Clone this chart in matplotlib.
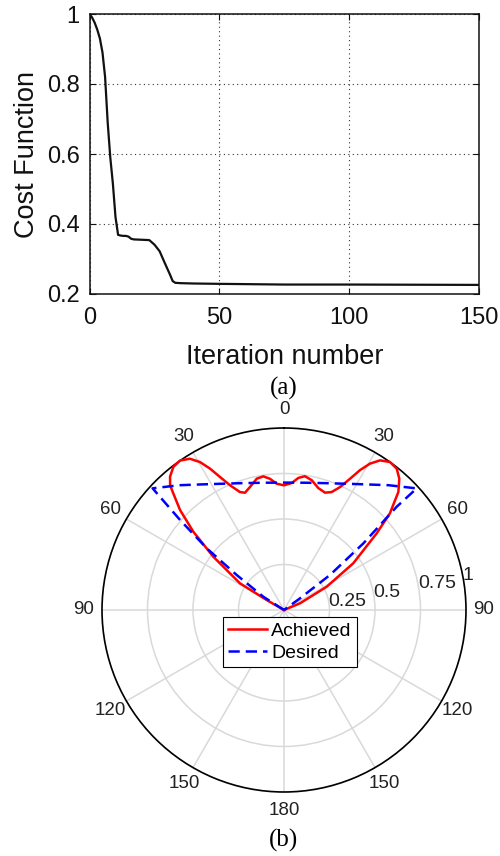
import numpy as np
import matplotlib
matplotlib.use('Agg')
import matplotlib.pyplot as plt

plt.rcParams['font.family'] = ['Liberation Sans', 'DejaVu Sans']

# ---------------- (a) cost function data ----------------
iterations = [0, 1, 2, 3, 4, 5, 6, 7, 8, 9, 10, 11, 12, 13, 14, 15, 16, 17,
              20, 23, 25, 27, 29, 31, 32, 33, 35, 40, 50, 75, 100, 150]
cost = [1.0, 0.99, 0.975, 0.955, 0.93, 0.89, 0.82, 0.69, 0.59, 0.515, 0.42,
        0.369, 0.367, 0.366, 0.366, 0.364, 0.358, 0.356, 0.355, 0.354, 0.341,
        0.322, 0.288, 0.255, 0.237, 0.232, 0.231, 0.230, 0.229, 0.227, 0.227,
        0.226]
x_ticks = [0, 50, 100, 150]
y_ticks = [0.2, 0.4, 0.6, 0.8, 1.0]
y_tick_labels = ['0.2', '0.4', '0.6', '0.8', '1']

# ---------------- (b) beam pattern data (deg, normalised) ----------------
achieved_theta = [-90, -60.0, -58.8, -53.0, -49.2, -46.1, -43.5, -42.4, -40.5,
                  -37.7, -34.8, -31.9, -29.6, -27.6, -25.7, -23.4, -20.5,
                  -18.4, -15.5, -11.7, -8.8, -6.1, -3.3, 0, 3.5, 6.2, 8.9,
                  12.1, 15.7, 19.3, 22.0, 24.5, 26.7, 28.5, 30.4, 32.7, 35.6,
                  38.6, 41.3, 44.1, 47.6, 50.4, 56.0, 61.4, 67.3, 90]
achieved_r = [0.0, 0.11, 0.283, 0.486, 0.658, 0.793, 0.884, 0.928, 0.964,
              0.994, 1.0, 0.979, 0.935, 0.876, 0.811, 0.747, 0.692, 0.679,
              0.701, 0.737, 0.743, 0.725, 0.695, 0.685, 0.699, 0.730, 0.744,
              0.729, 0.696, 0.683, 0.699, 0.742, 0.807, 0.874, 0.932, 0.977,
              1.0, 0.993, 0.960, 0.903, 0.788, 0.661, 0.459, 0.267, 0.095,
              0.0]
desired_theta = [-90, -57.3, -53.5, -51.4, -49.1, -47.2, -40, -30, -20, -10, 0,
                 10, 20, 30, 40, 47.5, 47.5, 50.0, 52.7, 53.9, 90]
desired_r = [0.0, 0.135, 0.323, 0.543, 0.756, 0.984, 0.895, 0.799, 0.741, 0.71,
             0.70, 0.71, 0.741, 0.799, 0.895, 0.989, 0.84, 0.569, 0.318, 0.109,
             0.0]
angle_ticks = [0, 30, 60, 90, 120, 150, 180, 210, 240, 270, 300, 330]
angle_labels = ['0', '30', '60', '90', '120', '150', '180', '150', '120', '90',
                '60', '30']
r_ticks = [0.25, 0.5, 0.75, 1.0]
r_labels = ['0.25', '0.5', '0.75', '1']

W, H = 500, 856
fig = plt.figure(figsize=(W / 100, H / 100), dpi=100)

# ---------------- (a) ----------------
ax1 = fig.add_axes([89.5 / W, 1 - 294 / H, 389.8 / W, 280 / H])
ax1.plot(iterations, cost, color='#111111', lw=1.6)
ax1.set_xlim(0, 150)
ax1.set_ylim(0.2, 1.0)
ax1.set_xticks(x_ticks)
ax1.set_yticks(y_ticks)
ax1.set_yticklabels(y_tick_labels)
ax1.tick_params(direction='in', length=4, width=0.8, labelsize=17,
                top=True, right=True, colors='#111111')
ax1.tick_params(axis='x', pad=9)
ax1.tick_params(axis='y', pad=7)
ax1.grid(True, linestyle=(0, (1, 3)), color='#333333', lw=0.8)
for s in ax1.spines.values():
    s.set_linewidth(1.1)
    s.set_color('#111111')

fig.text(285 / W, 1 - 357 / H, 'Iteration number', ha='center', va='center',
         fontsize=19.5, color='#111111')
fig.text(27 / W, 1 - 154 / H, 'Cost Function', ha='center', va='center',
         rotation=90, fontsize=19.5, color='#111111')
fig.text(284 / W, 1 - 388 / H, '(a)', ha='center', va='center', fontsize=18,
         family='Liberation Serif')
fig.text(284 / W, 1 - 840 / H, '(b)', ha='center', va='center', fontsize=18,
         family='Liberation Serif')

# ---------------- (b) ----------------
ax2 = fig.add_axes([102 / W, 1 - 792 / H, 364 / W, 364 / H], projection='polar')
ax2.set_theta_zero_location('N')
ax2.set_theta_direction(-1)
ax2.plot(np.deg2rad(achieved_theta), achieved_r, color='red', lw=1.8,
         label='Achieved', clip_on=False, zorder=3, solid_joinstyle='round')
ax2.plot(np.deg2rad(desired_theta), desired_r, color='blue', lw=1.8,
         linestyle=(0, (4.5, 2.4)), label='Desired', clip_on=False, zorder=3)
ax2.set_ylim(0, 1)
ax2.set_yticks(r_ticks)
ax2.set_yticklabels([])
ax2.set_xticks(np.deg2rad(angle_ticks))
ax2.set_xticklabels(angle_labels)
ax2.tick_params(axis='x', labelsize=13.5, pad=2.5, colors='#222222')
ax2.grid(True, color='#d9d9d9', lw=1.1)
ax2.spines['polar'].set_linewidth(1.2)
ax2.spines['polar'].set_color('black')
for r, lab in zip(r_ticks, r_labels):
    ax2.text(np.deg2rad(79), r, lab, ha='left', va='center', fontsize=14,
             color='#222222')

leg = ax2.legend(loc='upper center', bbox_to_anchor=(290 / W, 1 - 616.7 / H),
                 bbox_transform=fig.transFigure, fontsize=14, frameon=True,
                 fancybox=False, edgecolor='black', framealpha=1,
                 borderpad=0.3, labelspacing=0.2, handlelength=2.0,
                 handletextpad=0.2, borderaxespad=0)
leg.get_frame().set_linewidth(0.8)

fig.savefig('out.png', dpi=100)
